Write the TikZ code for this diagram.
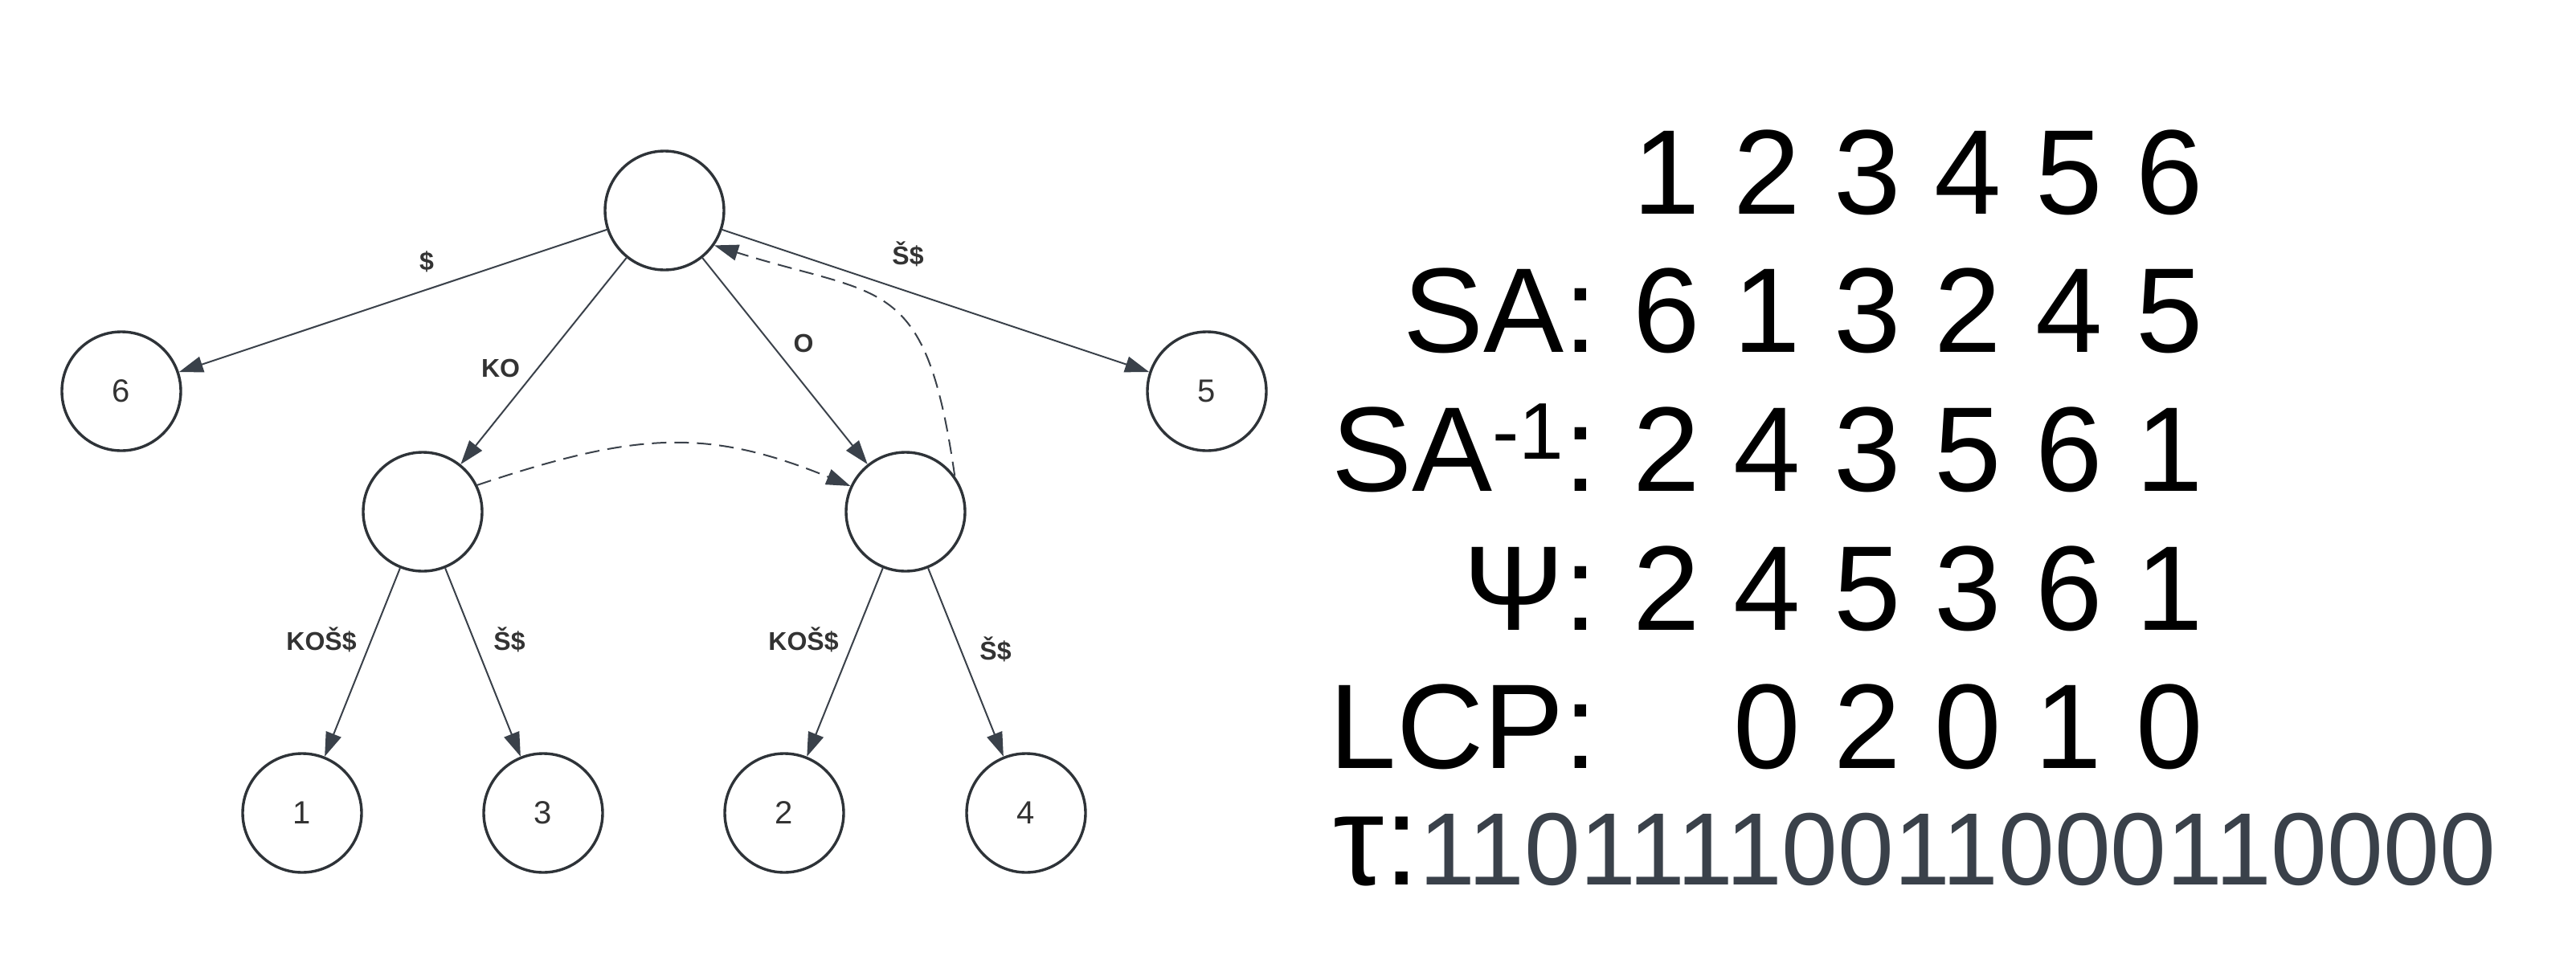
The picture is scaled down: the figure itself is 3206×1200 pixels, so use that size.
\documentclass[tikz,border=0pt]{standalone}
\usepackage{fontspec}
\setmainfont{Liberation Sans}
\usetikzlibrary{arrows.meta}
\definecolor{circ}{HTML}{2E3338}
\definecolor{edgec}{HTML}{3A414A}
\definecolor{txt}{HTML}{333333}
\definecolor{bits}{HTML}{3A414A}
\begin{document}
\begin{tikzpicture}[x=0.25pt,y=-0.25pt,
  tnode/.style={circle,draw=circ,line width=0.85pt,minimum size=37pt,inner sep=0pt,
    font=\fontsize{10pt}{12pt}\selectfont,text=txt},
  edgeline/.style={draw=edgec,line width=0.5pt,-{Triangle[length=7.5pt,width=5pt]}},
  dashline/.style={edgeline,dash pattern=on 4.5pt off 2.5pt},
  elab/.style={font=\bfseries\fontsize{8pt}{10pt}\selectfont,text=txt,inner sep=0pt,anchor=base},
  big/.style={font=\fontsize{37.5pt}{40pt}\selectfont,inner sep=0pt},
]
\useasboundingbox (0,0) rectangle (3206,1200);

% tree nodes
\node[tnode] (root) at (827,262) {};
\node[tnode] (n6) at (151,487) {6};
\node[tnode] (n5) at (1502,487) {5};
\node[tnode] (mL) at (526,637) {};
\node[tnode] (mR) at (1127,637) {};
\node[tnode] (f1) at (376,1012) {1};
\node[tnode] (f3) at (676,1012) {3};
\node[tnode] (f2) at (976,1012) {2};
\node[tnode] (f4) at (1277,1012) {4};

% edges
\draw[edgeline] (root) -- (n6);
\draw[edgeline] (root) -- (mL);
\draw[edgeline] (root) -- (mR);
\draw[edgeline] (root) -- (n5);
\draw[edgeline] (mL) -- (f1);
\draw[edgeline] (mL) -- (f3);
\draw[edgeline] (mR) -- (f2);
\draw[edgeline] (mR) -- (f4);

% suffix links
\draw[dashline] (mL.26) .. controls (790,538) and (880,532) .. (mR.155);
\draw[dashline] (mR.36) .. controls (1152,340) and (1100,372) .. (root.-35);

% edge labels
\node[elab] (la) at (531,336) {\$};
\node[elab] (lb) at (1130,329) {Š\$};
\node[elab] (lc) at (623,469) {KO};
\node[elab] (ld) at (1000,438) {O};
\node[elab] (le) at (400,809) {KOŠ\$};
\node[elab] (lf) at (634,809) {Š\$};
\node[elab] (lg) at (1000,809) {KOŠ\$};
\node[elab] (lh) at (1239,821) {Š\$};

% table
\node[big,anchor=base west] (r0) at (2032,266) {1 2 3 4 5 6};
\node[big,anchor=base east] (t1) at (1989,438) {SA:};
\node[big,anchor=base west] (r1) at (2032,438) {6 1 3 2 4 5};
\node[big,anchor=base east] (t2) at (1989,611) {SA\raisebox{10pt}{\fontsize{25pt}{27pt}\selectfont -1}:};
\node[big,anchor=base west] (r2) at (2032,611) {2 4 3 5 6 1};
\node[big,anchor=base east] (t3) at (1989,784) {Ψ:};
\node[big,anchor=base west] (r3) at (2032,784) {2 4 5 3 6 1};
\node[big,anchor=base east] (t4) at (1989,956) {LCP:};
\node[big,anchor=base west] (r4) at (2157,956) {0 2 0 1 0};
\node[font=\fontsize{40pt}{44pt}\selectfont,inner sep=0pt,anchor=base east] (t5) at (1768,1101) {τ:};
\node[font=\fontsize{32pt}{36pt}\selectfont,text=bits,inner sep=0pt,anchor=base west] (r5) at (1766,1101) {\scalebox{0.98}[1]{11011110011000110000}};
\end{tikzpicture}
\end{document}
